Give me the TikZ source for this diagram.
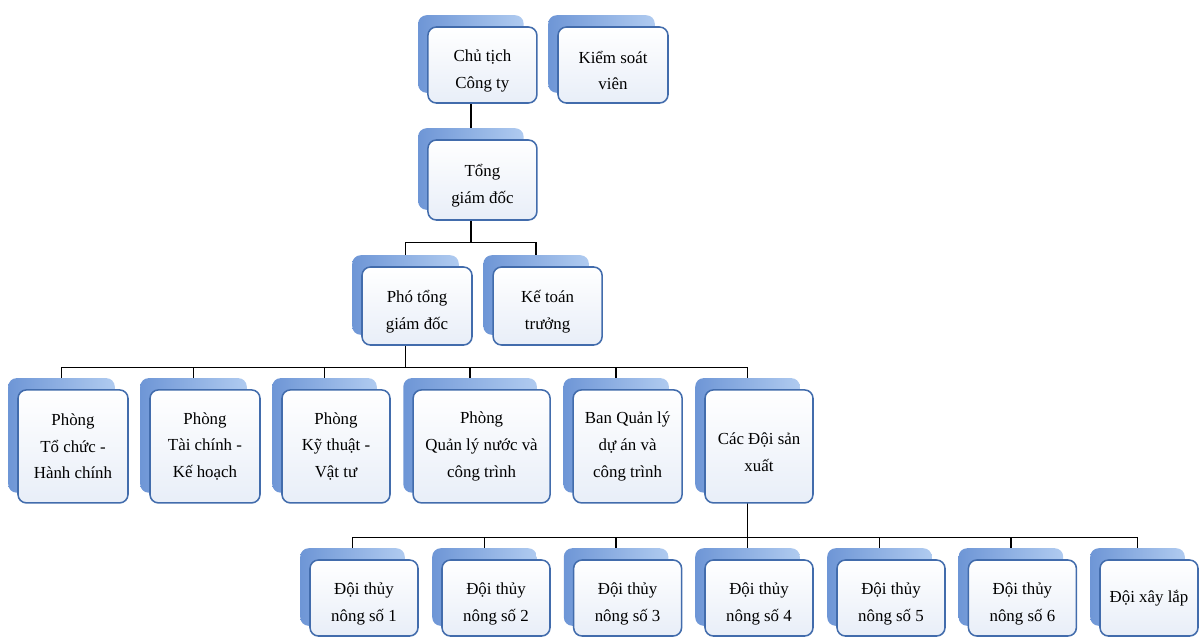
\documentclass[tikz,border=0pt]{standalone}
\usepackage{fontspec}
\setmainfont{Liberation Serif}
\pgfdeclarelayer{background}
\pgfsetlayers{background,main}
\definecolor{unitline}{RGB}{66,108,172}
\definecolor{unitlow}{RGB}{232,238,248}
\definecolor{backdark}{RGB}{110,150,214}
\definecolor{backlight}{RGB}{176,203,240}
\newcommand{\boxlift}{\rule{0pt}{5.8mm}}
\tikzset{
  unit/.style={draw=unitline,line width=1.1pt,rounded corners=6pt,top color=white,bottom color=unitlow,
    align=center,inner sep=2pt,minimum width=2.7cm,font=\fontsize{12}{18.9}\selectfont},
  backbox/.style={rounded corners=6pt,left color=backdark,right color=backlight},
  link/.style={line width=1pt,black},
}
\begin{document}
\begin{tikzpicture}
\useasboundingbox (0,0) rectangle (30,-15.925);
% top
\node[unit,minimum width=2.725cm,minimum height=1.9cm] (ct) at (12.06,-1.625) {\boxlift Chủ tịch\\Công ty};
\node[unit,minimum width=2.75cm,minimum height=1.9cm] (ksv) at (15.325,-1.625) {\boxlift Kiểm soát\\viên};
\node[unit,minimum width=2.725cm,minimum height=2cm] (tgd) at (12.06,-4.5) {\boxlift Tổng\\giám đốc};
\node[unit,minimum width=2.75cm,minimum height=1.95cm] (pho) at (10.425,-7.65) {\boxlift Phó tổng\\giám đốc};
\node[unit,minimum width=2.725cm,minimum height=1.95cm] (ktt) at (13.69,-7.65) {\boxlift Kế toán\\trưởng};
% phong ban
\node[unit,minimum width=2.75cm,minimum height=2.825cm] (p1) at (1.825,-11.16) {Phòng\\Tổ chức -\\Hành chính};
\node[unit,minimum width=2.75cm,minimum height=2.825cm] (p2) at (5.125,-11.16) {Phòng\\Tài chính -\\Kế hoạch};
\node[unit,minimum height=2.825cm] (p3) at (8.4,-11.16) {Phòng\\Kỹ thuật -\\Vật tư};
\node[unit,minimum width=3.425cm,minimum height=2.825cm] (p4) at (12.04,-11.16) {Phòng\\Quản lý nước và\\công trình};
\node[unit,minimum width=2.725cm,minimum height=2.825cm] (ban) at (15.69,-11.16) {Ban Quản lý\\dự án và\\công trình};
\node[unit,minimum height=2.825cm] (cac) at (18.975,-11.16) {\boxlift Các Đội sản\\xuất};
% doi
\node[unit,minimum height=1.9cm] (d1) at (9.1,-14.95) {\boxlift Đội thủy\\nông số 1};
\node[unit,minimum height=1.9cm] (d2) at (12.4,-14.95) {\boxlift Đội thủy\\nông số 2};
\node[unit,minimum height=1.9cm] (d3) at (15.69,-14.95) {\boxlift Đội thủy\\nông số 3};
\node[unit,minimum height=1.9cm] (d4) at (18.975,-14.95) {\boxlift Đội thủy\\nông số 4};
\node[unit,minimum height=1.9cm] (d5) at (22.275,-14.95) {\boxlift Đội thủy\\nông số 5};
\node[unit,minimum height=1.9cm] (d6) at (25.56,-14.95) {\boxlift Đội thủy\\nông số 6};
\node[unit,minimum width=2.45cm,minimum height=1.9cm] (d7) at (28.725,-14.95) {Đội xây lắp};
\begin{pgfonlayer}{background}
% connectors
\draw[link] ([xshift=-2.9mm]ct.center) -- ([xshift=-2.9mm]tgd.center);
\coordinate (bus1) at ([xshift=-2.9mm,yshift=-5.5mm]tgd.south);
\draw[link] ([xshift=-2.9mm]tgd.center) -- (bus1);
\foreach \n in {pho,ktt}
  \draw[link] ([xshift=-2.9mm]\n.center) |- (bus1);
\coordinate (bus2) at ([xshift=-2.9mm,yshift=-5.5mm]pho.south);
\draw[link] ([xshift=-2.9mm]pho.center) -- (bus2);
\foreach \n in {p1,p2,p3,p4,ban,cac}
  \draw[link] ([xshift=-2.9mm]\n.center) |- (bus2);
\coordinate (bus3) at ([xshift=-2.9mm,yshift=-8.5mm]cac.south);
\draw[link] ([xshift=-2.9mm]cac.center) -- (bus3);
\foreach \n in {d1,d2,d3,d4,d5,d6,d7}
  \draw[link] ([xshift=-2.9mm]\n.center) |- (bus3);
% back plates
\foreach \n in {ct,ksv,tgd,pho,ktt,p1,p2,p3,p4,ban,cac,d1,d2,d3,d4,d5,d6,d7}
  \path[backbox] ([shift={(-0.225,0.275)}]\n.south west) rectangle ([shift={(-0.35,0.275)}]\n.north east);
\end{pgfonlayer}
\end{tikzpicture}
\end{document}
